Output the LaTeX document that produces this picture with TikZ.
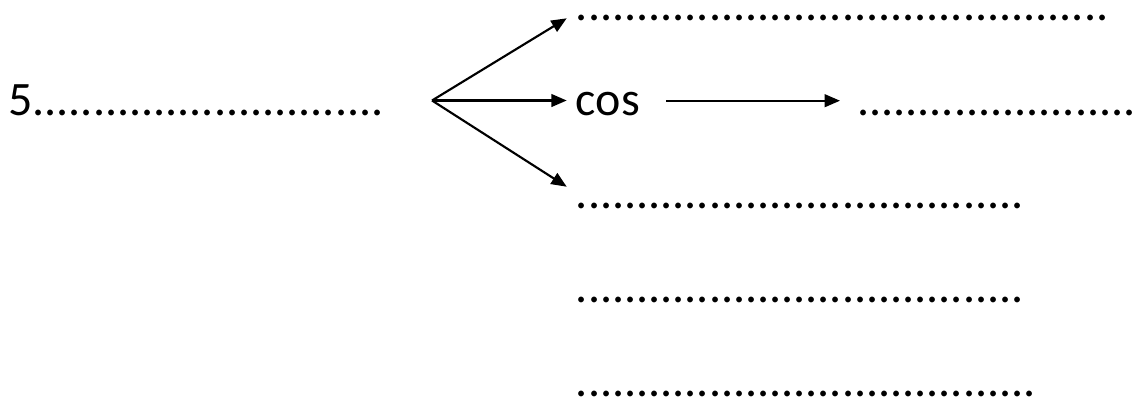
\documentclass[tikz,border=0pt]{standalone}
\usepackage{fontspec}
\setmainfont{Carlito}
\usetikzlibrary{arrows.meta}
\begin{document}
\begin{tikzpicture}[x=0.75pt,y=-0.75pt,
  txt/.style={anchor=base west,inner sep=0pt,font=\fontsize{36}{43}\selectfont},
  arr/.style={line width=1.6pt,-{Triangle[length=11.5pt,width=9.5pt]}}]
\useasboundingbox (0,0) rectangle (1144,405);
\node[txt] (five) at (8,115) {5.............................};
\node[txt] (top) at (575.7,20.7) {............................................};
\node[txt] (cos) at (575.7,115) {cos};
\node[txt] (right) at (857,115) {.......................};
\node[txt] (r3) at (575.7,208) {.....................................};
\node[txt] (r4) at (575.7,302.3) {.....................................};
\node[txt] (r5) at (575.7,396.5) {......................................};
\coordinate (o) at (432,100.5);
\coordinate (t1) at (566.7,18.3);
\coordinate (t2) at (566.7,100.5);
\coordinate (t3) at (566.7,186.7);
\coordinate (c1) at (666,100.7);
\coordinate (c2) at (840,100.7);
\draw[arr] (o) -- (t1);
\draw[arr] (o) -- (t2);
\draw[arr] (o) -- (t3);
\draw[arr] (c1) -- (c2);
\end{tikzpicture}
\end{document}
